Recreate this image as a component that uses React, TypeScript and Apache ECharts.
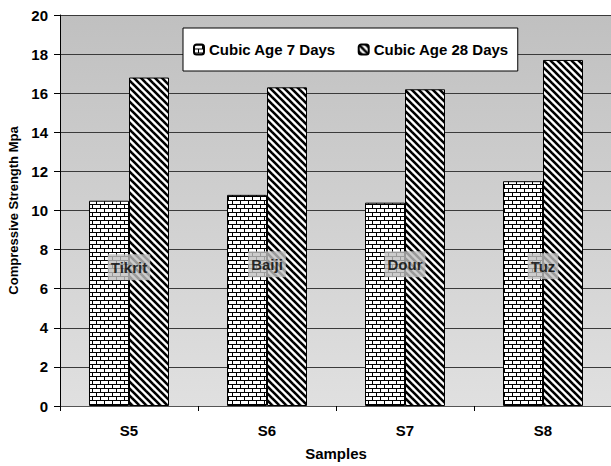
import React, { useEffect, useRef } from "react";
import * as echarts from "echarts";

const categories = ["S5", "S6", "S7", "S8"];
const seriesNames = ["Cubic Age 7 Days", "Cubic Age 28 Days"];
const age7 = [10.5, 10.8, 10.4, 11.5];
const age28 = [16.8, 16.3, 16.2, 17.7];
const siteNames = ["Tikrit", "Baiji", "Dour", "Tuz"];
const siteLabelLevels = [7.1, 7.25, 7.25, 7.15];
const yMin = 0;
const yMax = 20;
const yInterval = 2;

const FONT = "'Liberation Sans', Arial, sans-serif";

function brickPattern(): HTMLCanvasElement {
  const c = document.createElement("canvas");
  c.width = 8;
  c.height = 8;
  const ctx = c.getContext("2d")!;
  ctx.fillStyle = "#fff";
  ctx.fillRect(0, 0, 8, 8);
  ctx.fillStyle = "#000";
  ctx.fillRect(0, 0, 8, 1);
  ctx.fillRect(0, 4, 8, 1);
  ctx.fillRect(0, 0, 1, 4);
  ctx.fillRect(4, 4, 1, 4);
  return c;
}

function hatchPattern(): HTMLCanvasElement {
  const s = 7;
  const c = document.createElement("canvas");
  c.width = s;
  c.height = s;
  const ctx = c.getContext("2d")!;
  ctx.fillStyle = "#fff";
  ctx.fillRect(0, 0, s, s);
  ctx.strokeStyle = "#000";
  ctx.lineWidth = 2.6;
  for (const o of [-s, 0, s]) {
    ctx.beginPath();
    ctx.moveTo(o - 1, -1);
    ctx.lineTo(o + s + 1, s + 1);
    ctx.stroke();
  }
  return c;
}

export default function App() {
  const ref = useRef<HTMLDivElement>(null);
  useEffect(() => {
    if (!ref.current) return;
    const chart = echarts.init(ref.current, undefined, { renderer: "svg" });
    const brick = { image: brickPattern(), repeat: "repeat" };
    const hatch = { image: hatchPattern(), repeat: "repeat" };
    chart.setOption({
      animation: false,
      backgroundColor: "#fff",
      textStyle: { fontFamily: FONT },
      grid: {
        left: 60,
        top: 15,
        width: 552,
        height: 391,
        containLabel: false,
        outerBoundsMode: "none",
        show: true,
        borderWidth: 0,
        backgroundColor: new echarts.graphic.LinearGradient(0, 0, 0, 1, [
          { offset: 0, color: "#c0c0c0" },
          { offset: 1, color: "#e0e0e0" },
        ]),
      },
      legend: {
        data: seriesNames,
        left: 183,
        top: 28,
        padding: [14, 9, 14, 10],
        itemGap: 22,
        itemWidth: 10,
        itemHeight: 10,
        backgroundColor: "#fff",
        borderColor: "#000",
        borderWidth: 1,
        textStyle: { fontFamily: FONT, fontWeight: "bold", fontSize: 15, color: "#000" },
      },
      xAxis: {
        type: "category",
        data: categories,
        name: "Samples",
        nameLocation: "middle",
        nameGap: 40,
        nameTextStyle: { fontFamily: FONT, fontWeight: "bold", fontSize: 15, color: "#000" },
        axisLine: { lineStyle: { color: "#555", width: 1 } },
        axisTick: { show: true, length: 5, lineStyle: { color: "#000" } },
        axisLabel: { margin: 17, fontFamily: FONT, fontWeight: "bold", fontSize: 15, color: "#000" },
      },
      yAxis: {
        type: "value",
        min: yMin,
        max: yMax,
        interval: yInterval,
        name: "Compressive Strength Mpa",
        nameLocation: "middle",
        nameGap: 35,
        nameTextStyle: { fontFamily: FONT, fontWeight: "bold", fontSize: 13, color: "#000" },
        axisLine: { show: true, lineStyle: { color: "#000", width: 1 } },
        axisTick: { show: true, length: 6, lineStyle: { color: "#000" } },
        axisLabel: { margin: 12, fontFamily: FONT, fontWeight: "bold", fontSize: 15, color: "#000" },
        splitLine: { show: true, lineStyle: { color: "#3a3a3a", width: 1 } },
      },
      series: [
        {
          name: seriesNames[0],
          type: "bar",
          data: age7,
          barWidth: 40,
          barGap: "0%",
          itemStyle: { color: brick, borderColor: "#000", borderWidth: 1 },
        },
        {
          name: seriesNames[1],
          type: "bar",
          data: age28,
          barWidth: 40,
          barGap: "0%",
          itemStyle: { color: hatch, borderColor: "#000", borderWidth: 1 },
        },
        {
          name: "sites",
          type: "scatter",
          data: siteLabelLevels.map((v, i) => ({ value: [categories[i], v], name: siteNames[i] })),
          symbol: "rect",
          symbolSize: 1,
          itemStyle: { color: "rgba(0,0,0,0)" },
          z: 10,
          silent: true,
          label: {
            show: true,
            position: "inside",
            formatter: (p: any) => p.name,
            backgroundColor: "#c0c0c0",
            padding: [6, 3, 5, 3],
            fontFamily: FONT,
            fontWeight: "bold",
            fontSize: 15,
            color: "#000",
          },
        },
      ],
    });
    return () => chart.dispose();
  }, []);
  return (
    <div
      ref={ref}
      style={{ position: "fixed", left: 0, top: 0, width: 611, height: 466 }}
    />
  );
}
